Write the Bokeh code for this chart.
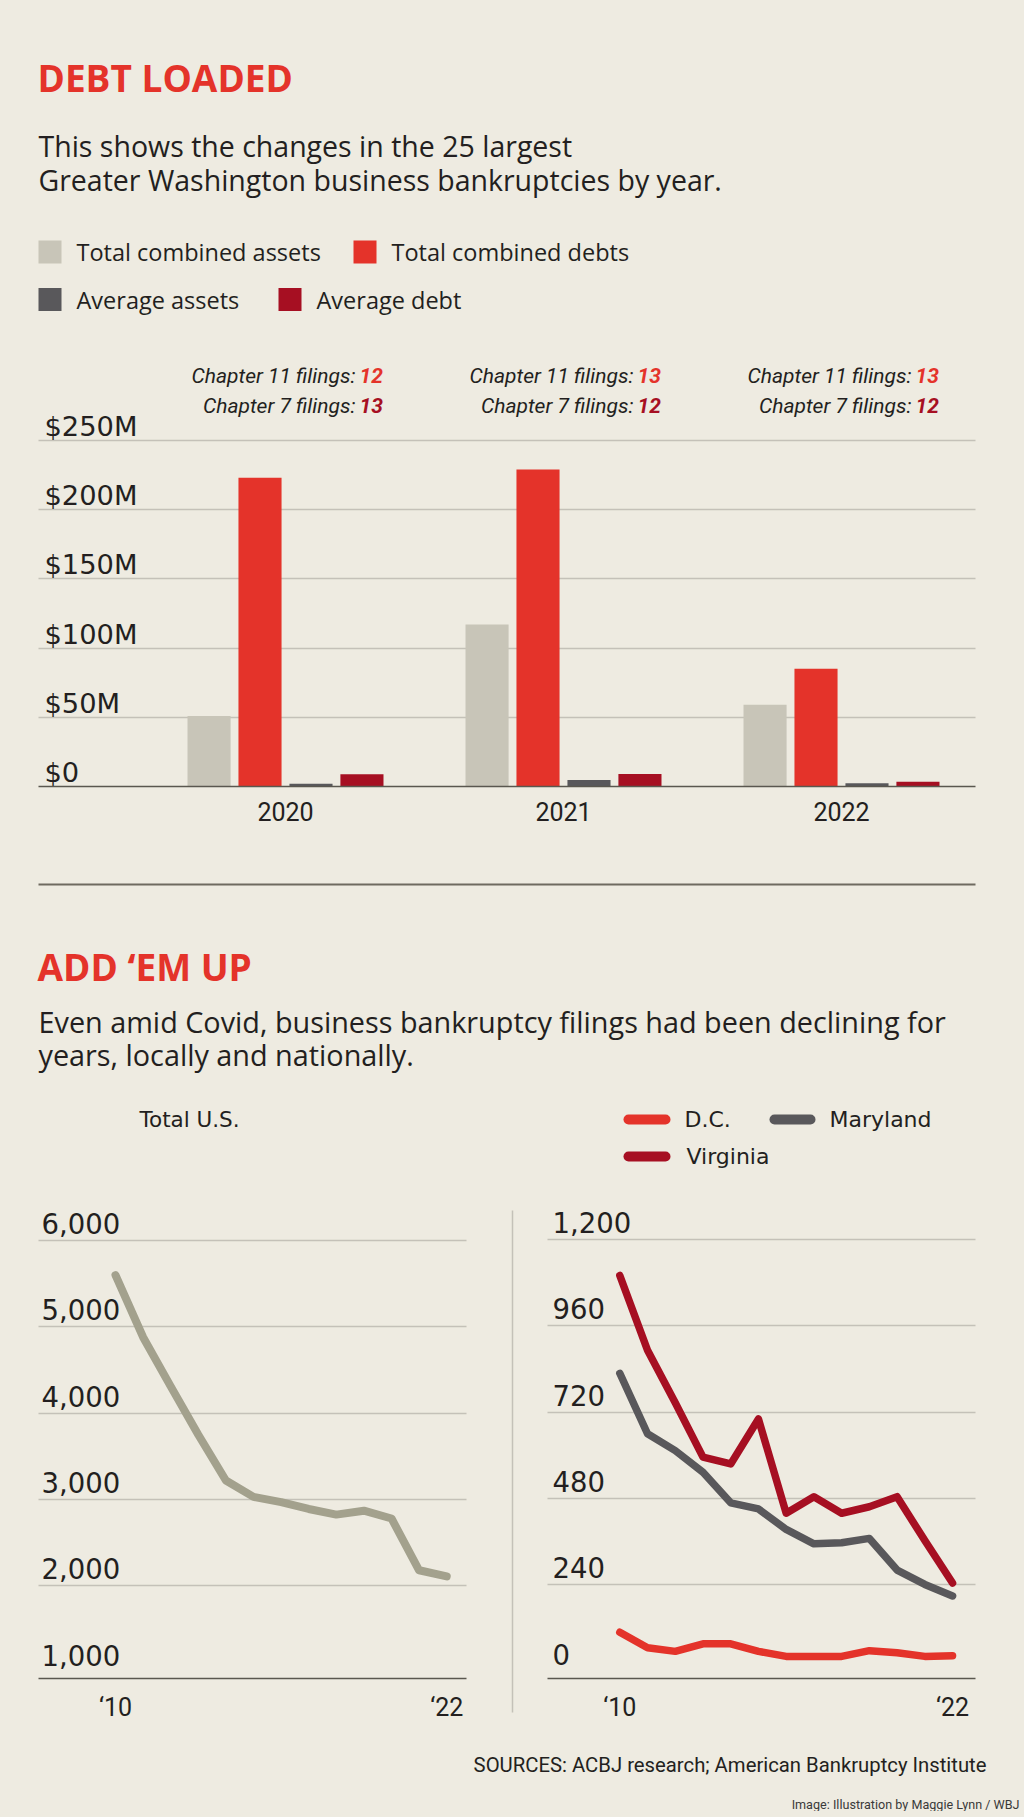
from bokeh.plotting import figure
from bokeh.models import (Range1d, FixedTicker, Grid, LinearAxis, ColumnDataSource,
                          GlobalInlineStyleSheet)
from bokeh.transform import dodge
from bokeh.layouts import column, row
from bokeh.embed import file_html
from bokeh.resources import INLINE
from bokeh.core.properties import value

# ---------------- data ----------------
years = ["2020", "2021", "2022"]
total_assets = [51, 117, 59]        # $M
total_debts = [223, 229, 85]        # $M
avg_assets = [2.0, 4.7, 2.4]        # $M
avg_debt = [8.9, 9.1, 3.4]          # $M
ch11_filings = [12, 13, 13]
ch7_filings = [13, 12, 12]
bar_series = ["Total combined assets", "Total combined debts", "Average assets", "Average debt"]
bar_ticks = [0, 50, 100, 150, 200, 250]
bar_tick_labels = ["$0", "$50M", "$100M", "$150M", "$200M", "$250M"]

line_years = [2010, 2011, 2012, 2013, 2014, 2015, 2016, 2017, 2018, 2019, 2020, 2021, 2022]
us_total = [5600, 4880, 4310, 3750, 3220, 3030, 2970, 2890, 2825, 2870, 2780, 2180, 2110]
dc = [108, 65, 55, 76, 76, 55, 41, 41, 41, 57, 51, 41, 43]
maryland = [828, 660, 613, 553, 468, 451, 394, 354, 357, 369, 281, 241, 209]
virginia = [1100, 892, 746, 595, 576, 701, 439, 485, 439, 457, 485, 363, 245]
us_ticks = [1000, 2000, 3000, 4000, 5000, 6000]
us_tick_labels = ["1,000", "2,000", "3,000", "4,000", "5,000", "6,000"]
st_ticks = [0, 240, 480, 720, 960, 1200]
st_tick_labels = ["0", "240", "480", "720", "960", "1,200"]
x_ticks = [2010, 2022]
x_tick_labels = ["\u201810", "\u201822"]
state_names = ["D.C.", "Maryland", "Virginia"]

# ---------------- styles ----------------
BG = "#eeebe1"
INK = "#231f20"
RED = "#e4332a"
DARKRED = "#a60f22"
SAND = "#c8c5b8"
CHAR = "#59585b"
OLIVE = "#a3a18d"
GRID = "#c4c1b8"
AXIS = "#5a574f"
COND = "Roboto"
BODY = "Open Sans"
WIDE = "DejaVu Sans"
W = 1024


def base_fig(width, height, xr, yr):
    p = figure(width=width, height=height, x_range=xr, y_range=yr,
               x_axis_location=None, y_axis_location=None,
               toolbar_location=None, output_backend="svg", min_border=0)
    p.center = [c for c in p.center if not isinstance(c, Grid)]
    p.background_fill_color = BG
    p.border_fill_color = BG
    p.outline_line_color = None
    return p


def layout_fig(height, top, width=W, left=0):
    # pixel-space figure for headings and legends
    return base_fig(width, height, Range1d(left, left + width), Range1d(top + height, top))


def style_xaxis(ax, standoff):
    ax.axis_line_color = AXIS
    ax.axis_line_width = 1.5
    ax.major_tick_line_color = None
    ax.minor_tick_line_color = None
    ax.major_label_text_font = COND
    ax.major_label_text_font_size = "25px"
    ax.major_label_text_color = INK
    ax.major_label_standoff = standoff


# ---------------- header 1 ----------------
hA = layout_fig(350, 0)
hA.text(x=[37], y=[77], text=["DEBT LOADED"], text_font=value(BODY), text_font_style="bold",
        text_font_size="37px", text_color=RED, text_baseline="middle")
hA.text(x=[38, 38], y=[145.5, 179.5],
        text=["This shows the changes in the 25 largest",
              "Greater Washington business bankruptcies by year."],
        text_font=value(BODY), text_font_size="28.5px", text_color=INK, text_baseline="middle")
bar_colors = [SAND, RED, CHAR, DARKRED]
hA.rect(x=[49.5, 364.5, 49.5, 289.5], y=[251.5, 251.5, 299, 299], width=23, height=23,
        width_units="screen", height_units="screen", fill_color=bar_colors, line_color=None)
hA.text(x=[76, 391, 76, 316], y=[251.5, 251.5, 299, 299], text=bar_series,
        text_font=value(BODY), text_font_size="23.5px", text_color=INK, text_baseline="middle")

# ---------------- bar chart ----------------
BAR_TOP, BAR_H = 350, 500
y0_px, y250_px = 786.0, 440.0
ppu = (y0_px - y250_px) / 250.0
x0_px, xstep = 285.0, 278.0
bx_start = -x0_px / xstep
b_lo, b_hi = (38 - x0_px) / xstep, (975 - x0_px) / xstep
pb = base_fig(W, BAR_H, Range1d(bx_start, bx_start + W / xstep),
              Range1d(-(BAR_TOP + BAR_H - y0_px) / ppu, 250 + (y250_px - BAR_TOP) / ppu))
xi = list(range(len(years)))
src = ColumnDataSource(dict(xi=xi, assets=total_assets, debts=total_debts,
                            avg_assets=avg_assets, avg_debt=avg_debt,
                            ch11=[str(v) for v in ch11_filings], ch7=[str(v) for v in ch7_filings]))
pb.add_layout(Grid(dimension=1, ticker=FixedTicker(ticks=bar_ticks[1:]), cross_bounds=(b_lo, b_hi),
                   grid_line_color=GRID, grid_line_width=1.5))
offsets = [-0.275, -0.0917, 0.0917, 0.275]
for fld, off, col in zip(["assets", "debts", "avg_assets", "avg_debt"], offsets, bar_colors):
    pb.vbar(x=dodge("xi", off), top=fld, width=0.155, source=src, fill_color=col, line_color=None)
pb.text(x=[b_lo] * len(bar_ticks), y=bar_ticks, text=bar_tick_labels,
        x_offset=6, y_offset=-14, text_baseline="middle", text_font=value(WIDE),
        text_font_size="27.3px", text_color=INK)
for ypx, lab, fld, col in [(375, "Chapter 11 filings:", "ch11", RED), (405, "Chapter 7 filings:", "ch7", DARKRED)]:
    yy = (y0_px - ypx) / ppu
    pb.text(x="xi", y=yy, text=value(lab), source=src, x_offset=70, text_align="right",
            text_baseline="middle", text_font=value(COND), text_font_style="italic",
            text_font_size="21px", text_color=INK)
    pb.text(x="xi", y=yy, text=fld, source=src, x_offset=74, text_align="left",
            text_baseline="middle", text_font=value(COND), text_font_style="bold italic",
            text_font_size="21px", text_color=col)
bax = LinearAxis(ticker=FixedTicker(ticks=xi), fixed_location=0, bounds=(b_lo, b_hi),
                 major_label_overrides={i: y for i, y in zip(xi, years)})
style_xaxis(bax, 9)
pb.add_layout(bax, "below")

# ---------------- header 2 ----------------
hC = layout_fig(345, 850)
hC.segment(x0=[38], y0=[884], x1=[975], y1=[884], line_color="#6e6a60", line_width=2)
hC.text(x=[37], y=[966], text=["ADD \u2018EM UP"], text_font=value(BODY), text_font_style="bold",
        text_font_size="37px", text_color=RED, text_baseline="middle")
hC.text(x=[38, 38], y=[1020.5, 1054],
        text=["Even amid Covid, business bankruptcy filings had been declining for",
              "years, locally and nationally."],
        text_font=value(BODY), text_font_size="28.8px", text_color=INK, text_baseline="middle")
hC.text(x=[139], y=[1119], text=["Total U.S."], text_font=value(WIDE), text_font_size="21.5px",
        text_color=INK, text_baseline="middle")
state_colors = [RED, CHAR, DARKRED]
hC.segment(x0=[628, 774, 628], y0=[1119, 1119, 1156], x1=[665, 810, 665], y1=[1119, 1119, 1156],
           line_color=state_colors, line_width=10, line_cap="round")
hC.text(x=[684, 829, 686], y=[1119, 1119, 1156], text=state_names, text_font=value(WIDE),
        text_font_size="22px", text_color=INK, text_baseline="middle")

# ---------------- line charts ----------------
LC_TOP, LC_H, BASE_PX = 1195, 550, 1678
lsrc = ColumnDataSource(dict(year=line_years, us=us_total, dc=dc, md=maryland, va=virginia))


def line_fig(width, left, x2010_px, px_per_year, frame_lo, frame_hi, top_val, top_px, px_per_unit,
             grid_ticks, ticks, labels, lab_dx):
    xs = 2010 - (x2010_px - left) / px_per_year
    xr = Range1d(xs, xs + width / px_per_year)
    yr = Range1d(top_val - (LC_TOP + LC_H - top_px) / px_per_unit,
                 top_val + (top_px - LC_TOP) / px_per_unit)
    lo = 2010 - (x2010_px - frame_lo) / px_per_year
    hi = 2010 + (frame_hi - x2010_px) / px_per_year
    base = top_val - (BASE_PX - top_px) / px_per_unit
    p = base_fig(width, LC_H, xr, yr)
    p.add_layout(Grid(dimension=1, ticker=FixedTicker(ticks=grid_ticks), cross_bounds=(lo, hi),
                      grid_line_color=GRID, grid_line_width=1.5))
    p.text(x=[lo] * len(ticks), y=ticks, text=labels, x_offset=lab_dx, y_offset=-17,
           text_baseline="middle", text_font=value(WIDE), text_font_size="27.5px", text_color=INK)
    ax = LinearAxis(ticker=FixedTicker(ticks=x_ticks), fixed_location=base, bounds=(lo, hi),
                    major_label_overrides={t: l for t, l in zip(x_ticks, x_tick_labels)})
    style_xaxis(ax, 8)
    p.add_layout(ax, "below")
    return p, xs, px_per_year, top_val, top_px, px_per_unit


pl, lxs, lstep, ltv, ltp, lppu = line_fig(520, 0, 115.0, 27.6, 38, 466, 6000, 1240.0, 0.08633,
                                          us_ticks[1:], us_ticks, us_tick_labels, 3)
pl.line(x="year", y="us", source=lsrc, line_color=OLIVE, line_width=8,
        line_cap="round", line_join="round")
# divider between the two line charts (pixel position converted to this figure's data space)
sep_x = lxs + 512 / lstep
pl.segment(x0=[sep_x], y0=[ltv + (ltp - 1210) / lppu], x1=[sep_x], y1=[ltv - (1712 - ltp) / lppu],
           line_color=GRID, line_width=1.5)

pr, *_ = line_fig(504, 520, 619.3, 27.73, 547, 975, 1200, 1239.0, 0.3597,
                  st_ticks[1:], st_ticks, st_tick_labels, 5)
for fld, col in zip(["dc", "md", "va"], state_colors):
    pr.line(x="year", y=fld, source=lsrc, line_color=col, line_width=7.5,
            line_cap="round", line_join="round")

# ---------------- footer ----------------
ft = layout_fig(66, 1745)
ft.text(x=[986], y=[1764], text=["SOURCES: ACBJ research; American Bankruptcy Institute"],
        text_align="right", text_baseline="middle", text_font=value(COND),
        text_font_size="20.3px", text_color=INK)
ft.text(x=[1019], y=[1804], text=["Image: Illustration by Maggie Lynn / WBJ"],
        text_align="right", text_baseline="middle", text_font=value(COND),
        text_font_size="12.6px", text_color="#3a3a3a")

page = column(hA, pb, hC, row(pl, pr), ft,
              stylesheets=[GlobalInlineStyleSheet(css="body{background:%s;}" % BG)])

open("out.html", "w").write(file_html(page, INLINE))
